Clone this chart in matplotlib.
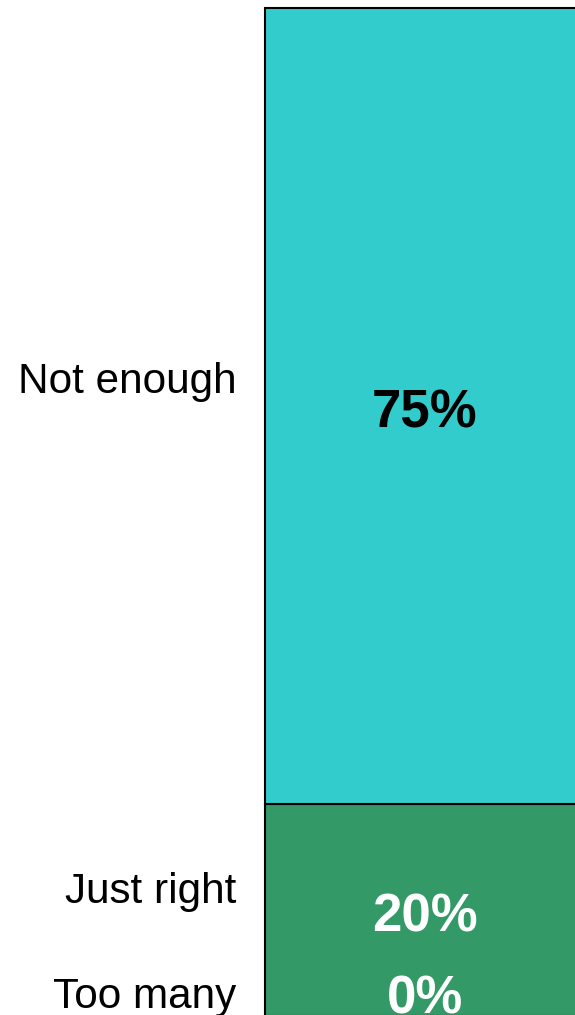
import matplotlib
matplotlib.use("Agg")
import matplotlib.pyplot as plt
from matplotlib.transforms import offset_copy

plt.rcParams['font.family'] = ['Liberation Sans', 'DejaVu Sans']

# answers, stacked bottom to top
categories = ["Too many", "Just right", "Not enough"]
values = [0, 20, 75]
colors = ["#339966", "#339966", "#33CCCC"]
value_colors = ["white", "white", "black"]
# baseline shift (pixels, downwards) of the category name vs. its value label
name_shift = [6, 29, 35]

W, H = 575, 1015
fig = plt.figure(figsize=(W / 100, H / 100), dpi=100)
# single column, runs past the right and bottom edge
ax = fig.add_axes([265 / W, -1 / H, 320 / W, 1008 / H])
ax.set_xlim(-0.5, 0.5)
ax.set_ylim(0, sum(values))
ax.axis("off")

bottom = 0
for cat, v, c, tc, ns in zip(categories, values, colors, value_colors, name_shift):
    if v > 0:
        ax.bar(0, v, width=1.0, bottom=bottom, color=c,
               edgecolor="black", linewidth=1.5, clip_on=False)
    mid = max(bottom + v / 2, 2.3)
    tr = offset_copy(ax.transData, fig=fig, x=0, y=-22, units="dots")
    ax.text(0, mid, f"{v}%", ha="center", va="baseline", transform=tr,
            fontsize=38, fontweight="bold", color=tc)
    tr2 = offset_copy(ax.transData, fig=fig, x=0, y=-22 + ns, units="dots")
    ax.text(-0.59, mid, cat, ha="right", va="baseline", transform=tr2,
            fontsize=30.4, color="black")
    bottom += v

fig.savefig("out.png", dpi=100)
